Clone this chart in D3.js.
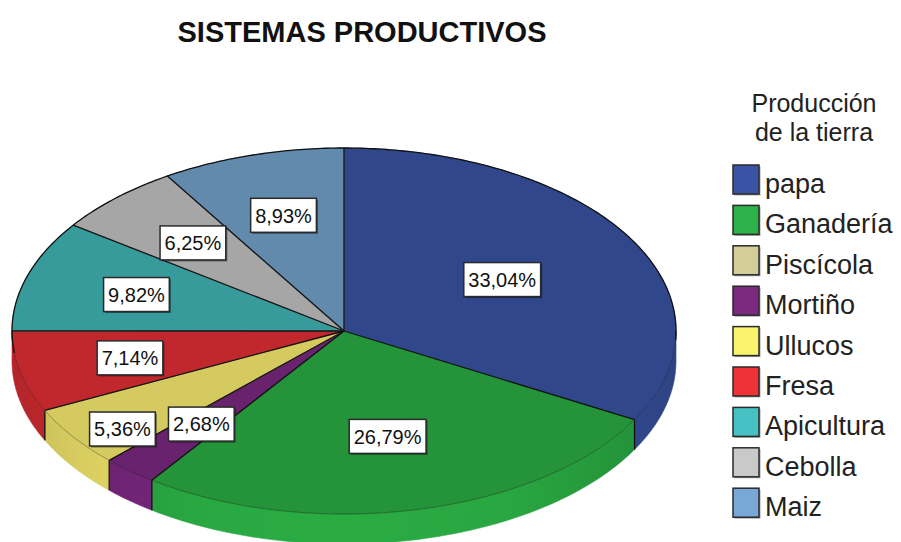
<!DOCTYPE html>
<html>
<head>
<meta charset="utf-8">
<script src="https://cdn.jsdelivr.net/npm/d3@7"></script>
<style>
  body { margin: 0; background: #fff; }
  svg { display: block; font-family: "Liberation Sans", Arial, sans-serif; }
</style>
</head>
<body>
<script>
// Categories of land production and their share (%) of the surveyed farms
const categories = ["papa", "Ganadería", "Piscícola", "Mortiño", "Ullucos", "Fresa", "Apicultura", "Cebolla", "Maiz"];
const percents   = [33.04, 26.79, 0, 2.68, 5.36, 7.14, 9.82, 6.25, 8.93];

// Legend swatch colours and the (shaded) colours of the pie faces
const swatchColors = ["#3a53a4", "#2db24a", "#d4cd97", "#7b2a7f", "#f9f46c", "#ee3235", "#47c1c3", "#c9c9c9", "#79a7d6"];
const faceColors   = ["#30478b", "#249339", "#b4ae80", "#69226d", "#d4ca5f", "#c1282e", "#389b9b", "#a6a6a6", "#628aad"];

const chartTitle  = "SISTEMAS PRODUCTIVOS";
const legendTitle = ["Producción", "de la tierra"];

const W = 901, H = 542;
const cx = 344, cy = 331, rx = 332, ry = 183, depth = 30;

const svg = d3.select("body").append("svg").attr("width", W).attr("height", H);
const defs = svg.append("defs");

const data = categories.map((name, i) => ({ name, value: percents[i], face: faceColors[i], swatch: swatchColors[i] }));
const slices = d3.pie().sort(null).value(d => d.value)(data).filter(d => d.value > 0);

// Ellipse scales: unit-circle coordinates -> screen
const sx = d3.scaleLinear().domain([-1, 1]).range([cx - rx, cx + rx]);
const sy = d3.scaleLinear().domain([-1, 1]).range([cy - ry, cy + ry]);
const pt = (a, f = 1, dz = 0) => [sx(f * Math.sin(a)), sy(-f * Math.cos(a)) + dz];

function arcPoints(a0, a1, dz = 0) {
  const n = Math.max(2, Math.ceil(Math.abs(a1 - a0) / (Math.PI / 240)));
  return d3.range(n + 1).map(i => pt(a0 + (a1 - a0) * i / n, 1, dz));
}
const line = d3.line();

function scaleColor(c, k) {
  const r = d3.rgb(c);
  return d3.rgb(Math.min(255, r.r * k), Math.min(255, r.g * k), Math.min(255, r.b * k)).formatHex();
}

// Cylinder shading of the rim, left to right
const shade = [[0, 0.93], [0.1, 1.01], [0.28, 1.14], [0.5, 1.17], [0.75, 1.13], [0.9, 1.03], [1, 0.94]];

// ---- side walls (front half only) ----
const sideG = svg.append("g");
slices.forEach((s, i) => {
  const a0 = Math.max(s.startAngle, Math.PI / 2), a1 = Math.min(s.endAngle, 3 * Math.PI / 2);
  if (a1 <= a0) return;
  const gid = "side" + i;
  const grad = defs.append("linearGradient").attr("id", gid)
    .attr("gradientUnits", "userSpaceOnUse")
    .attr("x1", cx - rx).attr("x2", cx + rx).attr("y1", 0).attr("y2", 0);
  shade.forEach(([o, k]) => grad.append("stop").attr("offset", o).attr("stop-color", scaleColor(s.data.face, k)));
  const pts = arcPoints(a0, a1).concat(arcPoints(a1, a0, depth));
  sideG.append("path").attr("d", line(pts) + "Z").attr("fill", `url(#${gid})`)
    .attr("stroke", `url(#${gid})`).attr("stroke-width", 0.6);
});
// vertical edges where slices meet on the rim
slices.forEach(s => {
  const a = s.endAngle;
  if (a > Math.PI / 2 && a <= 3 * Math.PI / 2 + 1e-6) {
    const [x, y] = pt(a);
    sideG.append("line").attr("x1", x).attr("y1", y).attr("x2", x).attr("y2", y + depth)
      .attr("stroke", "#111").attr("stroke-width", 1.3);
  }
});

// ---- top faces ----
const topG = svg.append("g");
slices.forEach(s => {
  const pts = [[cx, cy]].concat(arcPoints(s.startAngle, s.endAngle));
  topG.append("path").attr("d", line(pts) + "Z").attr("fill", s.data.face)
    .attr("stroke", s.data.face).attr("stroke-width", 0.5);
});
// front rim: faint; back rim: dark outline
topG.append("path").attr("d", line(arcPoints(Math.PI / 2, 3 * Math.PI / 2)))
  .attr("fill", "none").attr("stroke", "rgba(0,0,0,0.3)").attr("stroke-width", 1);
topG.append("path").attr("d", line(arcPoints(3 * Math.PI / 2 - 0.12, 5 * Math.PI / 2 + 0.05)))
  .attr("fill", "none").attr("stroke", "#111").attr("stroke-width", 1.3);
// radial dividers
slices.forEach(s => {
  const [x, y] = pt(s.startAngle);
  topG.append("line").attr("x1", cx).attr("y1", cy).attr("x2", x).attr("y2", y)
    .attr("stroke", "#111").attr("stroke-width", 1.3);
});

// ---- value labels at slice centroids ----
const labelG = svg.append("g");
const fmt = v => v.toFixed(2).replace(".", ",") + "%";
const placed = [];
const boxH = 34, fontSize = 20;
slices.forEach(s => {
  const theta = s.endAngle - s.startAngle;
  const mid = (s.startAngle + s.endAngle) / 2;
  const f = 4 * Math.sin(theta / 2) / (3 * theta);
  const g = labelG.append("g");
  const txt = g.append("text").attr("font-size", fontSize).attr("fill", "#111")
    .attr("text-anchor", "middle").text(fmt(s.value));
  const tw = txt.node().getComputedTextLength();
  const bw = tw + 9;
  let x, y, box;
  const gap = 12;
  // push a label outward (along the rim normal) until it clears the ones already placed
  const nx = Math.sin(mid) / rx, ny = -Math.cos(mid) / ry;
  const nl = Math.hypot(nx, ny);
  const c0 = pt(mid, f);
  for (let k = 0; k < 60; k++) {
    x = c0[0] + (nx / nl) * k * 3.1;
    y = c0[1] + (ny / nl) * k * 1.6;
    box = { x0: x - bw / 2, x1: x + bw / 2, y0: y - boxH / 2, y1: y + boxH / 2 };
    const hit = placed.some(b => box.x0 < b.x1 + gap && box.x1 > b.x0 - gap && box.y0 < b.y1 && box.y1 > b.y0);
    if (!hit) break;
  }
  placed.push(box);
  g.insert("rect", "text").attr("x", box.x0 + 1.5).attr("y", box.y0 + 1.5).attr("width", bw).attr("height", boxH)
    .attr("fill", "rgba(0,0,0,0.45)");
  g.insert("rect", "text").attr("x", box.x0).attr("y", box.y0).attr("width", bw).attr("height", boxH)
    .attr("fill", "#fff").attr("stroke", "#2a2a2a").attr("stroke-width", 1.5);
  txt.attr("x", x).attr("y", y + fontSize * 0.36);
});

// ---- title ----
svg.append("text").attr("x", 362).attr("y", 42).attr("text-anchor", "middle")
  .attr("font-size", 29).attr("font-weight", "bold").attr("fill", "#111").text(chartTitle);

// ---- legend ----
const legend = svg.append("g");
legend.selectAll("text.lt").data(legendTitle).join("text").attr("class", "lt")
  .attr("x", 814).attr("y", (d, i) => 112 + i * 29).attr("text-anchor", "middle")
  .attr("font-size", 25).attr("fill", "#222").text(d => d);

const ly = d3.scaleBand().domain(categories).range([165, 165 + 40.4 * categories.length]);
const item = legend.selectAll("g.item").data(data).join("g").attr("class", "item")
  .attr("transform", d => `translate(733,${ly(d.name)})`);
item.append("rect").attr("x", 1.5).attr("y", 1.5).attr("width", 26).attr("height", 29).attr("fill", "rgba(0,0,0,0.35)");
item.append("rect").attr("width", 26).attr("height", 29).attr("fill", d => d.swatch)
  .attr("stroke", "#2a2a2a").attr("stroke-width", 1.5);
item.append("text").attr("x", 32).attr("y", 28).attr("font-size", 27).attr("fill", "#222").text(d => d.name);
</script>
</body>
</html>
